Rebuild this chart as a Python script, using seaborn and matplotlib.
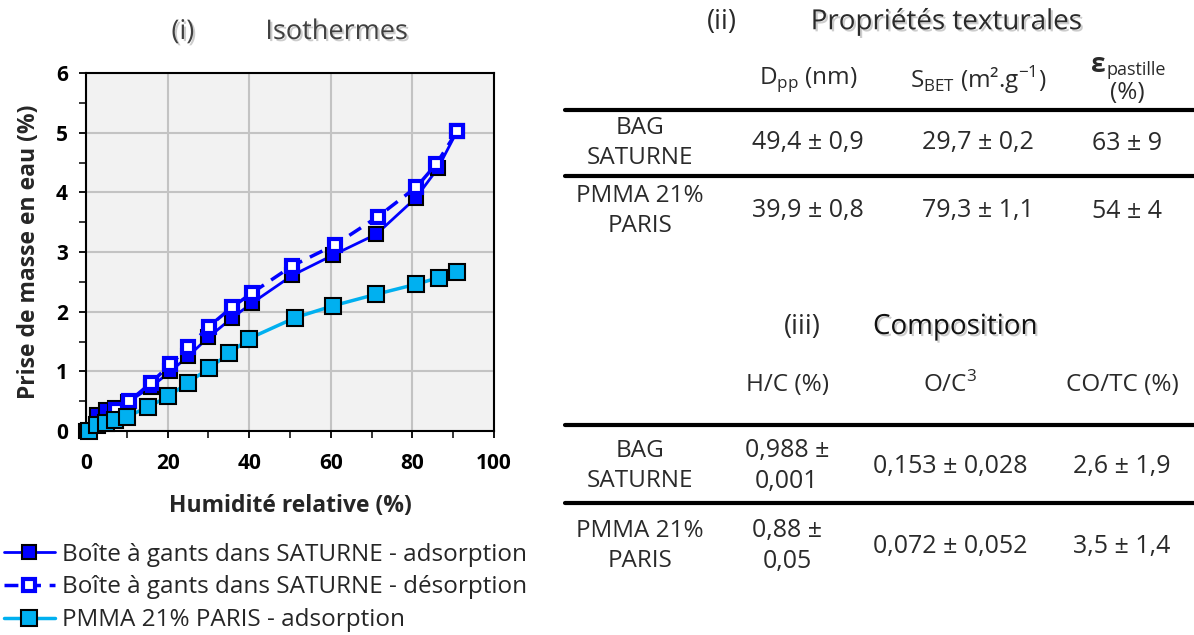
import matplotlib
matplotlib.use("Agg")
import matplotlib.pyplot as plt
import seaborn as sns
from matplotlib.lines import Line2D
from matplotlib.ticker import MultipleLocator
import matplotlib.patheffects as pe

# isothermes
hr_ads_bag = [0, 2.6, 5, 7, 10.4, 16, 20.7, 25, 30, 35.7, 40.6, 50.6, 60.6, 71.2, 80.9, 86.2, 91]
m_ads_bag = [0, 0.27, 0.35, 0.38, 0.49, 0.74, 1.0, 1.25, 1.57, 1.89, 2.14, 2.61, 2.95, 3.30, 3.91, 4.40, 5.03]
hr_des_bag = [7.3, 10.6, 16, 20.7, 25, 30.1, 35.7, 40.8, 50.6, 61, 71.5, 81, 85.8, 91]
m_des_bag = [0.35, 0.50, 0.81, 1.12, 1.40, 1.75, 2.07, 2.32, 2.77, 3.12, 3.59, 4.09, 4.47, 5.03]
hr_pmma = [0.8, 2.6, 5, 7, 10.1, 15.1, 20.2, 25, 30.1, 35.1, 40, 51.3, 60.6, 71, 80.9, 86.4, 91]
m_pmma = [0, 0.1, 0.14, 0.18, 0.24, 0.40, 0.58, 0.81, 1.05, 1.30, 1.55, 1.90, 2.10, 2.29, 2.46, 2.57, 2.67]

series_labels = ["Boîte à gants dans SATURNE - adsorption",
                 "Boîte à gants dans SATURNE - désorption",
                 "PMMA 21% PARIS - adsorption"]

# tableaux
samples = ["BAG\nSATURNE", "PMMA 21%\nPARIS"]
tex_headers = ["D$_{\\mathregular{pp}}$ (nm)", "S$_{\\mathregular{BET}}$ (m².g$^{\\mathregular{-1}}$)", "(%)"]
tex_values = [["49,4 ± 0,9", "29,7 ± 0,2", "63 ± 9"],
              ["39,9 ± 0,8", "79,3 ± 1,1", "54 ± 4"]]
comp_headers = ["H/C (%)", "O/C$^{\\mathregular{3}}$", "CO/TC (%)"]
comp_values = [["0,988 ±\n0,001", "0,153 ± 0,028", "2,6 ± 1,9"],
               ["0,88 ±\n0,05", "0,072 ± 0,052", "3,5 ± 1,4"]]

sns.set_style("ticks")
plt.rcParams['font.family'] = ['Open Sans', 'DejaVu Sans']
plt.rcParams['mathtext.fontset'] = 'custom'

W, H = 1194, 635
fig = plt.figure(figsize=(W / 100, H / 100), dpi=100)
ax = fig.add_axes([86 / W, 1 - 431 / H, (494 - 86) / W, (431 - 73) / H])
ax.set_facecolor('#f2f2f2')

blue = '#0000ff'
cyan = '#00b0f0'

sns.lineplot(x=hr_ads_bag, y=m_ads_bag, ax=ax, color=blue, lw=2, marker='s', markersize=10,
             markeredgecolor='black', markeredgewidth=1.5, markerfacecolor=blue,
             label=series_labels[0], zorder=3, clip_on=False)
sns.lineplot(x=hr_des_bag, y=m_des_bag, ax=ax, color=blue, lw=2.5, linestyle=(0, (4, 2.5)),
             marker='s', markersize=9, markeredgecolor=blue, markeredgewidth=3,
             markerfacecolor='white', label=series_labels[1], zorder=4, clip_on=False)
sns.lineplot(x=hr_pmma, y=m_pmma, ax=ax, color=cyan, lw=2.5, marker='s', markersize=11,
             markeredgecolor='black', markeredgewidth=1.5, markerfacecolor=cyan,
             label=series_labels[2], zorder=5, clip_on=False)

ax.set_xlim(0, 100)
ax.set_ylim(0, 6)
ax.xaxis.set_major_locator(MultipleLocator(20))
ax.xaxis.set_minor_locator(MultipleLocator(10))
ax.yaxis.set_major_locator(MultipleLocator(1))
ax.yaxis.set_minor_locator(MultipleLocator(0.5))
ax.grid(True, which='major', color='#c3c3c3', lw=1.5)
ax.set_axisbelow(True)
for s in ax.spines.values():
    s.set_color('black')
    s.set_linewidth(1.5)
ax.tick_params(which='major', direction='out', length=5, width=1.3, pad=8,
               labelsize=15, colors='black')
ax.tick_params(axis='x', which='major', pad=11)
ax.tick_params(which='minor', direction='out', length=5, width=1.3)
for lab in ax.get_xticklabels() + ax.get_yticklabels():
    lab.set_fontweight('bold')
ax.set_xlabel("Humidité relative (%)", fontsize=16.5, fontweight='bold', labelpad=14)
ax.set_ylabel("Prise de masse en eau (%)", fontsize=16.5, fontweight='bold', labelpad=11)

handles, labels = ax.get_legend_handles_labels()
ax.get_legend().remove()
fig.legend(handles, labels, loc='upper left', bbox_to_anchor=(0.0, 1 - 539 / H),
           frameon=False, fontsize=17.5, handlelength=2.1, handletextpad=0.3,
           labelspacing=0.36, borderaxespad=0, borderpad=0.15)

txt = '#2a2a2a'
shadow = [pe.withSimplePatchShadow(offset=(1.5, -1.5), shadow_rgbFace='#9a9a9a', alpha=0.5)]


def put(x, y, s, size=18, **kw):
    fig.text(x / W, 1 - y / H, s, ha='center', va='center', fontsize=size,
             color=kw.pop('color', txt), linespacing=1.3, **kw)


put(183, 32, "(i)", size=19.5, color='#404040', path_effects=shadow)
put(337, 32, "Isothermes", size=19.5, color='#404040', path_effects=shadow)

# (ii) propriétés texturales
put(722, 22, "(ii)", size=19.5)
put(946, 22, "Propriétés texturales", size=20, path_effects=shadow)
tex_x = [808, 978, 1127]
put(tex_x[0], 80, tex_headers[0], size=17.5)
put(tex_x[1], 80, tex_headers[1], size=17.5)
fig.text(1098 / W, 1 - 65 / H, "ε", fontsize=19, fontweight='bold', color=txt, ha='center', va='center')
fig.text(1106 / W, 1 - 70 / H, "pastille", fontsize=13, color=txt, ha='left', va='center')
put(tex_x[2], 93, tex_headers[2], size=17.5)
for y in (110, 176):
    fig.add_artist(Line2D([565 / W, 1], [1 - y / H] * 2, color='black', lw=3))
for i, y in enumerate((143, 211)):
    put(640, y, samples[i], size=17.5)
    for j, x in enumerate(tex_x):
        put(x, y, tex_values[i][j], size=18)

# (iii) composition
put(802, 327, "(iii)", size=19.5)
put(955, 327, "Composition", size=20, color='#111111', path_effects=shadow)
comp_x = [787, 950, 1122]
for j, x in enumerate(comp_x):
    put(x, 385, comp_headers[j], size=17.5)
for y in (425, 503):
    fig.add_artist(Line2D([565 / W, 1], [1 - y / H] * 2, color='black', lw=3))
for i, y in enumerate((466, 546)):
    put(640, y, samples[i], size=17.5)
    for j, x in enumerate(comp_x):
        put(x, y, comp_values[i][j], size=18)

fig.savefig("out.png", dpi=100)
